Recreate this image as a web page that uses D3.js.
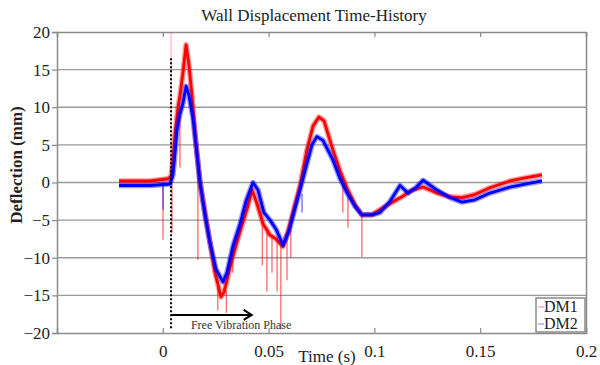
<!DOCTYPE html>
<html>
<head>
<meta charset="utf-8">
<script src="https://cdn.jsdelivr.net/npm/d3@7"></script>
<style>
  body { margin: 0; background: #fff; }
  svg text { font-family: "Times New Roman", "Liberation Serif", Tinos, "DejaVu Serif", serif !important; }
</style>
</head>
<body>
<svg id="chart" width="600" height="365"></svg>
<script>
// tiempos (s) y deflexiones (mm)
var dm1T = [-0.0207,-0.006,0.0025,0.0039,0.0048,0.0058,0.0072,0.0081,0.0095,0.011,0.0124,0.0138,0.0157,0.0176,0.02,0.0223,0.0247,0.0275,0.029,0.0327,0.0365,0.0398,0.0422,0.0445,0.0474,0.0507,0.0535,0.0568,0.0592,0.0615,0.0648,0.0681,0.071,0.0738,0.0762,0.0804,0.0838,0.0871,0.0909,0.0941,0.0988,0.1026,0.1074,0.113,0.1178,0.123,0.1296,0.1357,0.1414,0.1475,0.1546,0.1641,0.1712,0.1792];
var dm1V = [0.2,0.2,0.5,0.8,3,6.5,10,11.5,14.5,18.3,15.5,11.5,5,0,-4,-8,-12,-15.2,-14.5,-10.2,-6.5,-3.5,-1,-2.8,-5.5,-7,-7.5,-8.5,-6.5,-4,-0.5,4.3,7.5,8.7,8.2,4.3,1.5,-0.8,-3,-4.3,-4.3,-3.6,-2.8,-1.9,-1.0,-0.6,-1.4,-1.9,-2.0,-1.6,-0.7,0.2,0.6,1.0];

var dm2T = [-0.0207,-0.006,0.0034,0.0048,0.0058,0.0067,0.008,0.0095,0.011,0.0124,0.0143,0.0157,0.0176,0.02,0.0223,0.0251,0.0284,0.0303,0.0331,0.0365,0.0393,0.0426,0.045,0.0478,0.0507,0.0535,0.0568,0.0596,0.0624,0.0648,0.0681,0.0705,0.0728,0.0757,0.0804,0.0838,0.0871,0.0909,0.0941,0.0988,0.1026,0.1074,0.1121,0.1159,0.1192,0.123,0.1296,0.1357,0.1414,0.1475,0.1546,0.1641,0.1712,0.1792];
var dm2V = [-0.4,-0.4,-0.2,1,4,7,9,10.5,12.8,11.5,8.5,5,0,-4.5,-8,-11.5,-13.2,-12,-8.5,-5.5,-2.5,0,-1,-4,-5,-6.2,-8.3,-6.5,-3.5,-1,2.5,5,6.1,5.6,3,0.5,-1.4,-3.2,-4.3,-4.3,-4.0,-2.5,-0.4,-1.4,-0.8,0.3,-1.0,-2.0,-2.6,-2.3,-1.4,-0.6,-0.2,0.2];

// picos de ruido: [t, desde, hasta]
var dm1Picos = [[0.0001,0.2,-7.6],[0.0043,1,-6.7],[0.0081,10,2],[0.0166,2,-10.3],[0.026,-13,-17],[0.030,-14.5,-17.3],[0.0331,-10,-12],[0.047,-5,-11],[0.0492,-6,-14.5],[0.0516,-7,-12],[0.054,-7.5,-14.5],[0.0558,-8.3,-19.5],[0.0587,-7,-13],[0.0605,-5,-10],[0.0851,0.5,-4],[0.0875,-1,-6],[0.0941,-4.3,-9.9]];
var dm1PicoAlto = [0.0039, 0.8, 22];
var dm2Picos = [[0.0001,-0.4,-3.6],[0.0658,-1.5,-4]];

var yTicks = [-20,-15,-10,-5,0,5,10,15,20];
var xTicks = [0,0.05,0.1,0.15,0.2];
var tLibre = 0.0039, tFlecha = 0.042;

var svg = d3.select("#chart"),
    margin = {top: 32, right: 14, bottom: 32, left: 57},
    width = 600 - margin.left - margin.right,
    height = 365 - margin.top - margin.bottom,
    g = svg.append("g").attr("transform", "translate(" + margin.left + "," + margin.top + ")");

var x = d3.scaleLinear().domain([-0.05, 0.2]).range([0, width]);
var y = d3.scaleLinear().domain([-20, 20]).range([height, 0]);

svg.append("defs").append("clipPath").attr("id", "recorte")
  .append("rect").attr("width", width).attr("height", height);

// rejilla
g.selectAll(".grid").data(yTicks.filter(function(d){ return d > -20 && d < 20; }))
  .enter().append("line")
  .attr("x1", 0).attr("x2", width)
  .attr("y1", function(d){ return y(d); }).attr("y2", function(d){ return y(d); })
  .attr("stroke", "#9a9a9a").attr("stroke-width", 1.3);

// ejes
var ejeY = g.append("g").call(d3.axisLeft(y).tickValues(yTicks).tickSize(5).tickPadding(2).tickFormat(d3.format("d")));
var ejeX = g.append("g").attr("transform", "translate(0," + height + ")")
  .call(d3.axisBottom(x).tickValues(xTicks).tickSize(-5).tickPadding(12).tickFormat(function(d){ return d === 0 ? "0" : String(+d.toFixed(2)); }));
g.append("g").call(d3.axisTop(x).tickValues(xTicks).tickSize(-5).tickFormat(""));
g.append("g").attr("transform", "translate(" + width + ",0)")
  .call(d3.axisRight(y).tickValues([]).tickSizeOuter(0));

g.selectAll(".domain").attr("stroke", "#8a8a8a").attr("stroke-width", 1.5);
g.selectAll(".tick line").attr("stroke", "#8a8a8a").attr("stroke-width", 1.2);
g.selectAll(".tick text").attr("font-size", 17).attr("fill", "#222");

var linea = d3.line()
  .x(function(d){ return x(d[0]); })
  .y(function(d){ return y(d[1]); });

var zona = g.append("g").attr("clip-path", "url(#recorte)");

function dibujar_serie(ts, vs, picos, color){
  var datos = ts.map(function(t, i){ return [t, vs[i]]; });
  zona.append("path").attr("d", linea(datos)).attr("fill", "none")
    .attr("stroke", color).attr("stroke-opacity", 0.4).attr("stroke-width", 5.5)
    .attr("stroke-linejoin", "round");
  zona.append("path").attr("d", linea(datos)).attr("fill", "none")
    .attr("stroke", color).attr("stroke-width", 2.8)
    .attr("stroke-linejoin", "round");
  zona.selectAll(null).data(picos).enter().append("line")
    .attr("x1", function(d){ return x(d[0]); }).attr("x2", function(d){ return x(d[0]); })
    .attr("y1", function(d){ return y(d[1]); }).attr("y2", function(d){ return y(d[2]); })
    .attr("stroke", color).attr("stroke-opacity", 0.7).attr("stroke-width", 1.1);
}

dibujar_serie(dm1T, dm1V, dm1Picos, "#ff0000");
zona.append("line")
  .attr("x1", x(dm1PicoAlto[0])).attr("x2", x(dm1PicoAlto[0]))
  .attr("y1", y(dm1PicoAlto[1])).attr("y2", y(dm1PicoAlto[2]))
  .attr("stroke", "#ff0000").attr("stroke-opacity", 0.35).attr("stroke-width", 1);
dibujar_serie(dm2T, dm2V, dm2Picos, "#0000ff");

// fase de vibracion libre
g.append("line")
  .attr("x1", x(tLibre)).attr("x2", x(tLibre))
  .attr("y1", y(16.5)).attr("y2", y(-19.5))
  .attr("stroke", "#000").attr("stroke-width", 2).attr("stroke-dasharray", "2,2");
g.append("line")
  .attr("x1", x(tLibre)).attr("x2", x(tFlecha))
  .attr("y1", y(-17.6)).attr("y2", y(-17.6))
  .attr("stroke", "#000").attr("stroke-width", 2);
g.append("path")
  .attr("d", "M" + (x(tFlecha) - 8) + "," + (y(-17.6) - 5) + "L" + x(tFlecha) + "," + y(-17.6) + "L" + (x(tFlecha) - 8) + "," + (y(-17.6) + 5))
  .attr("fill", "none").attr("stroke", "#000").attr("stroke-width", 2);
g.append("text")
  .attr("x", x(0.0133)).attr("y", y(-19.5))
  .attr("font-size", 12).attr("fill", "#333")
  .text("Free Vibration Phase");

// leyenda
var ley = g.append("g").attr("transform", "translate(" + (width - 50) + "," + (height - 35) + ")");
ley.append("rect").attr("width", 49).attr("height", 34)
  .attr("fill", "#fff").attr("stroke", "#8a8a8a").attr("stroke-width", 1.5);
[["DM1", "#ff0000", 14], ["DM2", "#0000ff", 31]].forEach(function(e){
  ley.append("line").attr("x1", 2).attr("x2", 8).attr("y1", e[2] - 5).attr("y2", e[2] - 5)
    .attr("stroke", e[1]).attr("stroke-opacity", 0.5).attr("stroke-width", 1);
  ley.append("text").attr("x", 8).attr("y", e[2]).attr("font-size", 16).attr("fill", "#222").text(e[0]);
});

// titulos
svg.append("text").attr("x", 314).attr("y", 21).attr("text-anchor", "middle")
  .attr("font-size", 17).attr("fill", "#222").text("Wall Displacement Time-History");
svg.append("text").attr("x", 327).attr("y", 362).attr("text-anchor", "middle")
  .attr("font-size", 17).attr("fill", "#222").text("Time (s)");
svg.append("text").attr("transform", "translate(22,165) rotate(-90)").attr("text-anchor", "middle")
  .attr("font-size", 17).attr("font-weight", "bold").attr("fill", "#222").text("Deflection (mm)");
</script>
</body>
</html>
